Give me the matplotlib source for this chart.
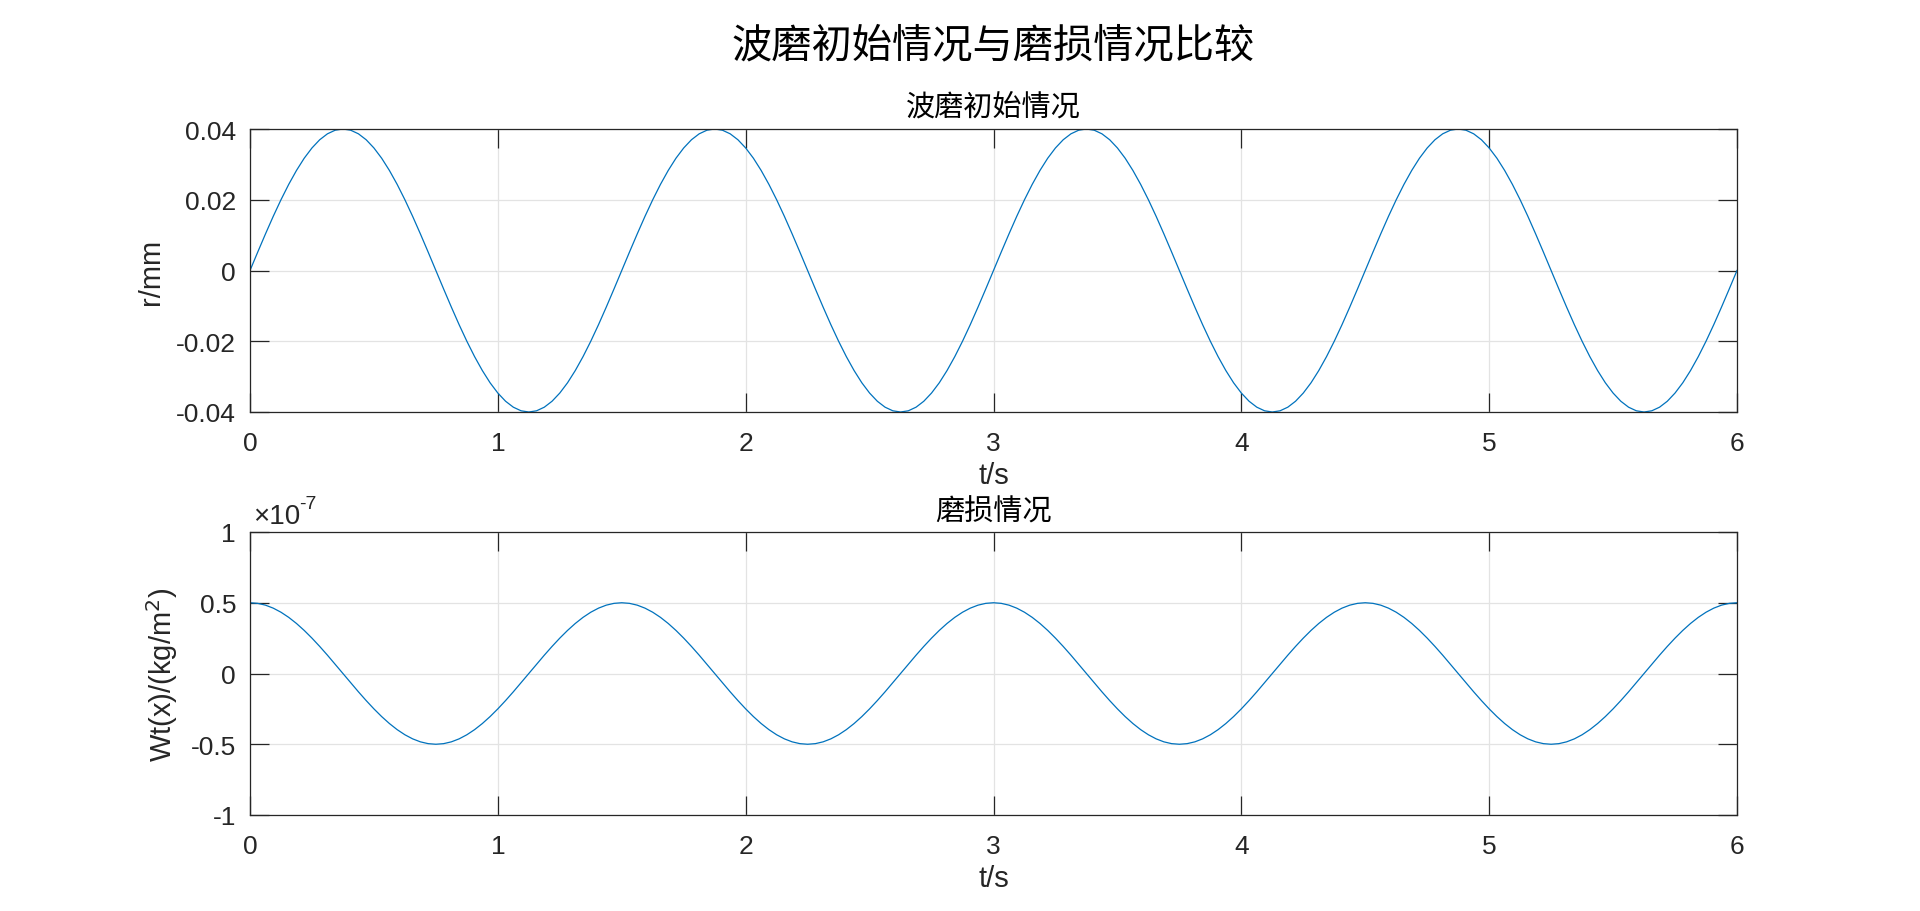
import numpy as np
import matplotlib
matplotlib.use("Agg")
import matplotlib.pyplot as plt
from matplotlib.ticker import FuncFormatter

# ---------------- data ----------------
time_s = np.linspace(0, 6, 193)   # sample times, step 0.03125 s

one_period_r = [0, 0.00522, 0.01035, 0.01531, 0.02, 0.02435, 0.02828, 0.03174,
                0.03464, 0.03696, 0.03864, 0.03966,
                0.04, 0.03966, 0.03864, 0.03696, 0.03464, 0.03174, 0.02828, 0.02435,
                0.02, 0.01531, 0.01035, 0.00522,
                0, -0.00522, -0.01035, -0.01531, -0.02, -0.02435, -0.02828, -0.03174,
                -0.03464, -0.03696, -0.03864, -0.03966,
                -0.04, -0.03966, -0.03864, -0.03696, -0.03464, -0.03174, -0.02828, -0.02435,
                -0.02, -0.01531, -0.01035, -0.00522]
r_mm = (one_period_r * 4) + [0]

one_period_w = [0.5, 0.4957, 0.483, 0.4619, 0.433, 0.3967, 0.3536, 0.3044,
                0.25, 0.1913, 0.1294, 0.0653,
                0, -0.0653, -0.1294, -0.1913, -0.25, -0.3044, -0.3536, -0.3967,
                -0.433, -0.4619, -0.483, -0.4957,
                -0.5, -0.4957, -0.483, -0.4619, -0.433, -0.3967, -0.3536, -0.3044,
                -0.25, -0.1913, -0.1294, -0.0653,
                0, 0.0653, 0.1294, 0.1913, 0.25, 0.3044, 0.3536, 0.3967,
                0.433, 0.4619, 0.483, 0.4957]
wear_e7 = (one_period_w * 4) + [0.5]          # in units of 1e-7 kg/m^2
wear = [v * 1e-7 for v in wear_e7]

x_ticks = [0, 1, 2, 3, 4, 5, 6]
r_ticks = [-0.04, -0.02, 0, 0.02, 0.04]
w_ticks = [-1e-7, -0.5e-7, 0, 0.5e-7, 1e-7]

suptitle = "波磨初始情况与磨损情况比较"
title1 = "波磨初始情况"
title2 = "磨损情况"

# ---------------- style ----------------
W, H = 1920, 912
plt.rcParams['font.family'] = ['Liberation Sans', 'Noto Sans CJK SC', 'DejaVu Sans']
plt.rcParams['axes.unicode_minus'] = False
CJK = ['Noto Sans CJK SC', 'DejaVu Sans']
LINE = '#0072BD'
AX = '#262626'
GRID = '#e3e3e3'

fig = plt.figure(figsize=(W / 100, H / 100), dpi=100)

def make_axes(top_px):
    left, right, height = 250, 1737, 283
    return fig.add_axes([left / W, 1 - (top_px + height) / H, (right - left) / W, height / H])

ax1 = make_axes(130)
ax2 = make_axes(533)

def style(ax):
    for s in ax.spines.values():
        s.set_color(AX)
        s.set_linewidth(0.9)
    ax.tick_params(direction='in', length=14, width=0.9, colors=AX, labelsize=19,
                   top=True, right=True, pad=10)
    ax.tick_params(axis='x', pad=14)
    ax.grid(True, color=GRID, linewidth=0.9)
    ax.set_axisbelow(True)
    ax.set_xlim(0, 6)
    ax.set_xticks(x_ticks)
    ax.xaxis.set_major_formatter(FuncFormatter(lambda v, p: f"{v:g}"))
    ax.set_xlabel("t/s", fontsize=21, color=AX, labelpad=4)

ax1.plot(time_s, r_mm, color=LINE, linewidth=0.9)
style(ax1)
ax1.set_ylim(-0.04, 0.04)
ax1.set_yticks(r_ticks)
ax1.yaxis.set_major_formatter(FuncFormatter(lambda v, p: f"{v:g}"))
ax1.set_ylabel("r/mm", fontsize=21, color=AX, labelpad=8)
ax1.text(0.5, 1 + 22 / 283, title1, transform=ax1.transAxes, ha='center', va='center',
         fontsize=21, family=CJK, color='#000000')

ax2.plot(time_s, wear, color=LINE, linewidth=0.9)
style(ax2)
ax2.set_ylim(-1e-7, 1e-7)
ax2.set_yticks(w_ticks)
ax2.yaxis.set_major_formatter(FuncFormatter(lambda v, p: f"{v / 1e-7:g}"))
ax2.set_ylabel("Wt(x)/(kg/m$^2$)", fontsize=21, color=AX, labelpad=8)
ax2.text(0.5, 1 + 20 / 283, title2, transform=ax2.transAxes, ha='center', va='center',
         fontsize=21, family=CJK, color='#000000')
ax2.text(0.002, 1.012, "×10", transform=ax2.transAxes, ha='left', va='bottom',
         fontsize=20, color=AX)
ax2.text(0.033, 1.07, "-7", transform=ax2.transAxes, ha='left', va='bottom',
         fontsize=14, color=AX)

fig.text(993 / W, 1 - 46 / H, suptitle, ha='center', va='center', fontsize=29,
         family=CJK, color='#000000')

fig.savefig("out.png", dpi=100)
